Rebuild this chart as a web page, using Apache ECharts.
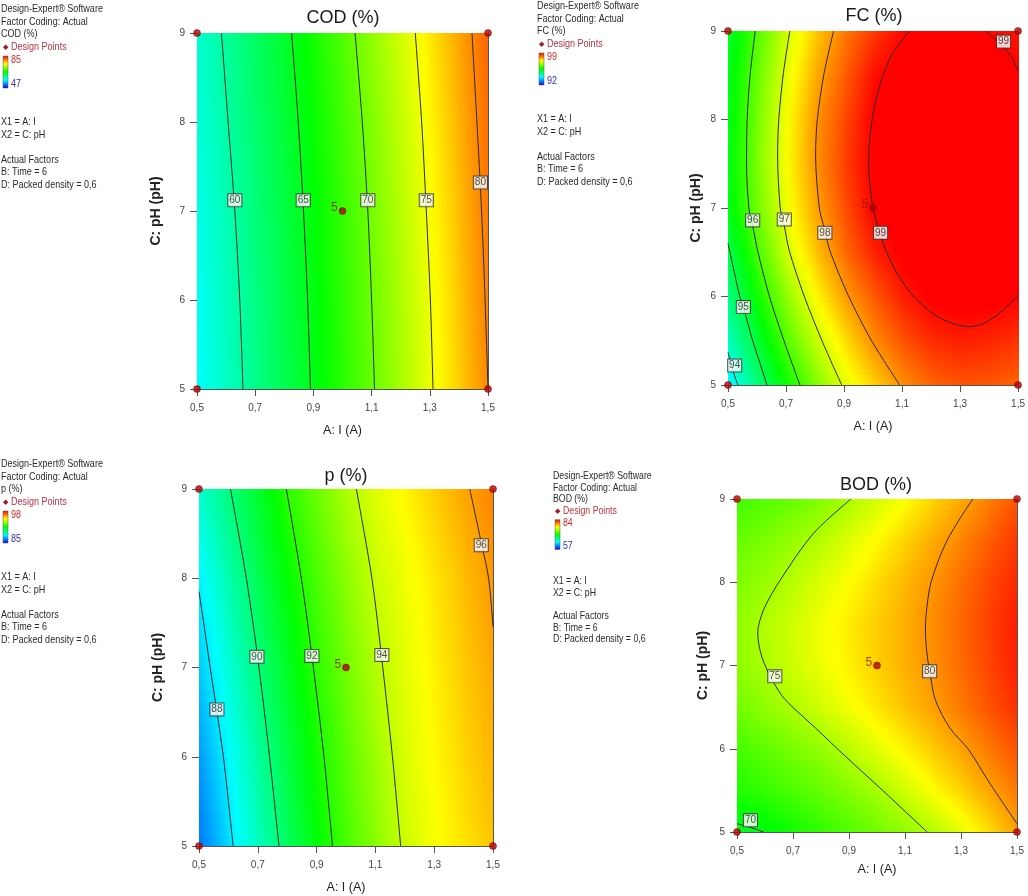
<!DOCTYPE html>
<html>
<head>
<meta charset="utf-8">
<script src="https://cdn.jsdelivr.net/npm/echarts@6/dist/echarts.min.js"></script>
<style>
html,body{margin:0;padding:0;background:#fff;}
#chart{width:1028px;height:896px;}
</style>
</head>
<body>
<div id="chart"></div>
<script>
// ---------------- DATA ----------------
const xTicks = [0.5, 0.7, 0.9, 1.1, 1.3, 1.5];
const xTickLabels = ['0,5', '0,7', '0,9', '1,1', '1,3', '1,5'];
const yTicks = [5, 6, 7, 8, 9];
const xNodes = [0.5, 0.6, 0.7, 0.8, 0.9, 1.0, 1.1, 1.2, 1.3, 1.4, 1.5];

const responseNames = ['COD (%)', 'FC (%)', 'p (%)', 'BOD (%)'];
const legendMax = [85, 99, 98, 84];
const legendMin = [47, 92, 85, 57];
const noteHeader = ['Design-Expert® Software', 'Factor Coding: Actual'];
const noteFactors = ['X1 = A: I', 'X2 = C: pH'];
const noteActual = ['Actual Factors', 'B: Time = 6', 'D: Packed density = 0,6'];
const xAxisName = 'A: I (A)';
const yAxisName = 'C: pH (pH)';

// response surface values read at the nodes (rows from pH 5 upwards)
const codYNodes = [5, 6, 7, 8, 9];
const codGrid = [
  [56.6, 58.75, 60.9, 63.06, 65.23, 67.5, 69.77, 72.24, 74.73, 77.35, 80.0],
  [56.85, 58.99, 61.14, 63.28, 65.45, 67.73, 70.0, 72.47, 74.95, 77.6, 80.25],
  [57.25, 59.36, 61.48, 63.6, 65.77, 68.0, 70.32, 72.8, 75.3, 77.95, 80.6],
  [57.8, 59.85, 61.93, 64.0, 66.2, 68.45, 70.8, 73.24, 75.74, 78.37, 81.0],
  [58.3, 60.33, 62.4, 64.48, 66.72, 69.0, 71.38, 73.8, 76.28, 78.85, 81.4]
];
const fcYNodes = [5, 5.5, 6, 6.5, 7, 7.5, 8, 8.5, 9];
const fcGrid = [
  [93.65, 94.66, 95.55, 96.35, 97.05, 97.55, 98.03, 98.3, 98.42, 98.4, 98.3],
  [94.2, 95.14, 96.05, 96.82, 97.45, 98.03, 98.42, 98.7, 98.8, 98.75, 98.65],
  [94.6, 95.58, 96.48, 97.25, 97.9, 98.37, 98.8, 99.05, 99.1, 99.07, 99.0],
  [94.98, 95.98, 96.9, 97.64, 98.25, 98.76, 99.06, 99.17, 99.2, 99.15, 99.06],
  [95.35, 96.27, 97.14, 97.86, 98.45, 99.0, 99.17, 99.27, 99.3, 99.27, 99.18],
  [95.4, 96.35, 97.22, 97.98, 98.55, 99.05, 99.22, 99.32, 99.35, 99.32, 99.22],
  [95.35, 96.3, 97.2, 97.96, 98.5, 99.03, 99.2, 99.3, 99.33, 99.3, 99.2],
  [95.3, 96.2, 97.07, 97.8, 98.35, 98.9, 99.12, 99.2, 99.22, 99.15, 99.02],
  [95.2, 96.05, 96.9, 97.6, 98.15, 98.6, 98.95, 99.12, 99.1, 98.98, 98.85]
];
const pYNodes = [5, 6, 7, 8, 9];
const pGrid = [
  [86.5, 87.8, 89.08, 90.31, 91.41, 92.4, 93.26, 94.1, 94.65, 95.1, 95.5],
  [86.95, 88.22, 89.49, 90.65, 91.73, 92.64, 93.5, 94.28, 94.8, 95.28, 95.7],
  [87.55, 88.75, 89.95, 91.04, 92.09, 92.94, 93.79, 94.4, 94.93, 95.43, 95.88],
  [88.1, 89.3, 90.42, 91.5, 92.43, 93.27, 94.06, 94.56, 95.07, 95.57, 96.08],
  [88.9, 89.93, 90.98, 92.03, 92.87, 93.7, 94.34, 94.85, 95.37, 95.9, 96.35]
];
const bodYNodes = [5, 5.5, 6, 6.5, 7, 7.5, 8, 8.5, 9];
const bodGrid = [
  [69.6, 70.05, 70.9, 71.75, 72.6, 73.46, 74.3, 75.2, 76.6, 78.1, 79.8],
  [71.3, 71.9, 72.5, 73.2, 74.0, 74.85, 76.0, 77.25, 78.4, 79.65, 80.85],
  [72.3, 73.0, 73.7, 74.4, 75.43, 76.5, 77.57, 78.64, 79.7, 80.8, 81.85],
  [73.5, 74.3, 75.1, 76.04, 76.98, 77.92, 78.87, 79.8, 80.8, 81.8, 82.8],
  [74.2, 75.1, 75.95, 76.8, 77.65, 78.5, 79.35, 80.2, 81.2, 82.2, 83.2],
  [74.3, 75.2, 76.05, 76.9, 77.75, 78.6, 79.4, 80.3, 81.3, 82.3, 83.3],
  [73.8, 74.55, 75.4, 76.35, 77.25, 78.2, 79.15, 80.1, 81.1, 82.1, 83.0],
  [73.2, 73.8, 74.5, 75.33, 76.37, 77.4, 78.45, 79.5, 80.5, 81.55, 82.6],
  [72.2, 72.7, 73.2, 73.9, 74.96, 76.07, 77.2, 78.37, 79.5, 80.67, 81.8]
];

// contour lines: [A, pH]
const codContours = [
  [[0.584, 9], [0.607, 8], [0.630, 7], [0.647, 6], [0.658, 5]],
  [[0.825, 9], [0.848, 8], [0.866, 7], [0.880, 6], [0.890, 5]],
  [[1.043, 9], [1.068, 8], [1.087, 7], [1.100, 6], [1.110, 5]],
  [[1.250, 9], [1.272, 8], [1.288, 7], [1.302, 6], [1.311, 5]],
  [[1.445, 9], [1.462, 8], [1.478, 7], [1.490, 6], [1.500, 5]]
];
const codLabels = [[0.630, 7.12, '60'], [0.865, 7.12, '65'], [1.087, 7.12, '70'], [1.288, 7.12, '75'], [1.474, 7.32, '80']];

const fcContours = [
  [[0.5, 5.37], [0.51, 5.25], [0.52, 5.13], [0.534, 5.0]],
  [[0.5, 6.6], [0.52, 6.3], [0.54, 6.01], [0.56, 5.8], [0.585, 5.5], [0.61, 5.25], [0.634, 5.0]],
  [[0.594, 9], [0.576, 8.5], [0.566, 8], [0.564, 7.5], [0.572, 7], [0.585, 6.8], [0.602, 6.52], [0.642, 6.01], [0.693, 5.5], [0.748, 5]],
  [[0.713, 9], [0.69, 8.5], [0.675, 8], [0.671, 7.6], [0.68, 7], [0.694, 6.8], [0.711, 6.52], [0.762, 6.01], [0.824, 5.5], [0.892, 5]],
  [[0.864, 9], [0.83, 8.5], [0.808, 8], [0.802, 7.6], [0.815, 7], [0.834, 6.75], [0.851, 6.52], [0.915, 6.01], [0.995, 5.5], [1.092, 5]],
  [[1.126, 9], [1.068, 8.75], [1.035, 8.5], [1.012, 8.25], [0.997, 8.0], [0.988, 7.75], [0.985, 7.5], [0.99, 7.25], [1.0, 7.0],
   [1.02, 6.75], [1.047, 6.5], [1.085, 6.25], [1.14, 6.0], [1.19, 5.85], [1.235, 5.75], [1.29, 5.68], [1.325, 5.66],
   [1.37, 5.68], [1.41, 5.75], [1.45, 5.85], [1.5, 6.01]],
  [[1.387, 9], [1.44, 8.85], [1.475, 8.72], [1.5, 8.55]]
];
const fcLabels = [[0.523, 5.22, '94'], [0.553, 5.88, '95'], [0.585, 6.86, '96'], [0.694, 6.87, '97'], [0.834, 6.72, '98'], [1.026, 6.72, '99'], [1.45, 8.88, '99']];

const pContours = [
  [[0.5, 7.85], [0.516, 7.5], [0.538, 7.0], [0.561, 6.5], [0.583, 6.0], [0.60, 5.5], [0.616, 5.0]],
  [[0.607, 9], [0.661, 8], [0.704, 7], [0.740, 6], [0.772, 5]],
  [[0.797, 9], [0.848, 8], [0.889, 7], [0.925, 6], [0.954, 5]],
  [[1.035, 9], [1.088, 8], [1.125, 7], [1.158, 6], [1.186, 5]],
  [[1.421, 9], [1.46, 8.4], [1.485, 8.0], [1.5, 7.46]]
];
const pLabels = [[0.561, 6.53, '88'], [0.697, 7.12, '90'], [0.884, 7.13, '92'], [1.122, 7.14, '94'], [1.46, 8.37, '96']];

const bodContours = [
  [[0.5, 5.1], [0.548, 5.055], [0.595, 5.0]],
  [[0.907, 9], [0.774, 8.59], [0.655, 8.03], [0.595, 7.67], [0.574, 7.39], [0.589, 7.1], [0.63, 6.8], [0.672, 6.59], [0.78, 6.25], [0.887, 5.91], [1.02, 5.5], [1.179, 5.0]],
  [[1.342, 9], [1.25, 8.5], [1.193, 8], [1.175, 7.6], [1.173, 7.4], [1.18, 7.1], [1.19, 6.9], [1.208, 6.59], [1.26, 6.25], [1.327, 5.99], [1.4, 5.6], [1.5, 5.1]]
];
const bodLabels = [[0.548, 5.14, '70'], [0.635, 6.87, '75'], [1.188, 6.93, '80']];

const designPoints = [[0.5, 9], [1.5, 9], [0.5, 5], [1.5, 5]];
const centerPoint = [1.0, 7];
const centerLabel = '5';

// ---------------- STYLE / LAYOUT ----------------
const FONT = "'Liberation Sans',Arial,sans-serif";
const grids = [
  {left: 197, top: 33, width: 291, height: 356},
  {left: 728, top: 31, width: 293, height: 354},
  {left: 199, top: 489, width: 294, height: 357},
  {left: 737, top: 499, width: 280, height: 333}
];
const titlePos = [[343, 18], [874, 16], [346, 476], [876, 485]];
const xNameGap = [35, 35, 35, 31];
const yNameGap = [34, 25, 34, 27];
const blocks = [
  {x: 1, y: 9, s: 1},
  {x: 537, y: 6, s: 1},
  {x: 1, y: 464, s: 1},
  {x: 553, y: 476, s: 0.93}
];

const panels = [
  {yNodes: codYNodes, grid: codGrid, contours: codContours, labels: codLabels},
  {yNodes: fcYNodes, grid: fcGrid, contours: fcContours, labels: fcLabels},
  {yNodes: pYNodes, grid: pGrid, contours: pContours, labels: pLabels},
  {yNodes: bodYNodes, grid: bodGrid, contours: bodContours, labels: bodLabels}
];

const RAMP = [[0, [0, 0, 255]], [0.25, [0, 255, 255]], [0.5, [0, 255, 0]], [0.75, [255, 255, 0]], [1, [255, 0, 0]]];
function rampColor(f) {
  f = Math.max(0, Math.min(1, f));
  for (let k = 1; k < RAMP.length; k++) {
    if (f <= RAMP[k][0]) {
      const a = RAMP[k - 1], b = RAMP[k];
      const t = (f - a[0]) / (b[0] - a[0]);
      const c = a[1].map((v, n) => Math.round(v + (b[1][n] - v) * t));
      return 'rgb(' + c.join(',') + ')';
    }
  }
  return 'rgb(255,0,0)';
}

function makeRender(pi) {
  const P = panels[pi];
  const lo = legendMin[pi], hi = legendMax[pi];
  return function (params, api) {
    const i = api.value(2), j = api.value(3);
    const g = P.grid, ys = P.yNodes;
    const p0 = api.coord([xNodes[i], ys[j]]);
    const p1 = api.coord([xNodes[i + 1], ys[j + 1]]);
    const v00 = g[j][i], v10 = g[j][i + 1], v01 = g[j + 1][i], v11 = g[j + 1][i + 1];
    const N = 8, children = [];
    const left = p0[0], right = p1[0], bottom = p0[1], top = p1[1];
    const h = (bottom - top) / N;
    for (let k = 0; k < N; k++) {
      const t = (k + 0.5) / N;
      const vl = v00 + (v01 - v00) * t, vr = v10 + (v11 - v10) * t;
      const stops = [];
      for (let s = 0; s <= 4; s++) {
        const v = vl + (vr - vl) * s / 4;
        stops.push({offset: s / 4, color: rampColor((v - lo) / (hi - lo))});
      }
      children.push({
        type: 'rect',
        shape: {x: left, y: bottom - (k + 1) * h - 0.5, width: right - left + 1, height: h + 1},
        style: {fill: new echarts.graphic.LinearGradient(0, 0, 1, 0, stops)},
        silent: true
      });
    }
    return {type: 'group', children: children};
  };
}

// ---------------- OPTION ----------------
const option = {
  animation: false,
  backgroundColor: '#fff',
  grid: grids.map(g => Object.assign({containLabel: false}, g)),
  xAxis: [],
  yAxis: [],
  series: [],
  graphic: []
};

const fmtX = v => {
  const k = xTicks.findIndex(t => Math.abs(t - v) < 1e-6);
  return k >= 0 ? xTickLabels[k] : '';
};

for (let k = 0; k < 4; k++) {
  option.xAxis.push({
    gridIndex: k, type: 'value', min: 0.5, max: 1.5, position: 'bottom',
    axisLine: {show: true, onZero: false, lineStyle: {color: '#555', width: 1}},
    axisTick: {show: true, length: 7, customValues: xTicks, lineStyle: {color: '#555'}},
    axisLabel: {customValues: xTicks, formatter: fmtX, fontSize: 10, color: '#444', margin: 14, fontFamily: FONT},
    splitLine: {show: false},
    name: xAxisName, nameLocation: 'middle', nameGap: xNameGap[k],
    nameTextStyle: {fontSize: 12.5, color: '#222', fontFamily: FONT}
  });
  option.yAxis.push({
    gridIndex: k, type: 'value', min: 5, max: 9, interval: 1, position: 'left',
    axisLine: {show: true, onZero: false, lineStyle: {color: '#555', width: 1}},
    axisTick: {show: true, length: 7, lineStyle: {color: '#555'}},
    axisLabel: {fontSize: 10, color: '#444', margin: 12, fontFamily: FONT},
    splitLine: {show: false},
    name: yAxisName, nameLocation: 'middle', nameGap: yNameGap[k],
    nameTextStyle: {fontSize: 14, color: '#222', fontWeight: 'bold', fontFamily: FONT}
  });
}
// frame axes (top / right)
for (let k = 0; k < 4; k++) {
  option.xAxis.push({
    gridIndex: k, type: 'value', min: 0.5, max: 1.5, position: 'top',
    axisLine: {show: true, onZero: false, lineStyle: {color: '#555', width: 1}},
    axisTick: {show: false}, axisLabel: {show: false}, splitLine: {show: false}
  });
  option.yAxis.push({
    gridIndex: k, type: 'value', min: 5, max: 9, position: 'right',
    axisLine: {show: true, onZero: false, lineStyle: {color: '#555', width: 1}},
    axisTick: {show: false}, axisLabel: {show: false}, splitLine: {show: false}
  });
}

for (let k = 0; k < 4; k++) {
  const P = panels[k];
  const cells = [];
  for (let j = 0; j < P.yNodes.length - 1; j++)
    for (let i = 0; i < xNodes.length - 1; i++)
      cells.push([xNodes[i], P.yNodes[j], i, j]);
  option.series.push({
    type: 'custom', xAxisIndex: k, yAxisIndex: k, renderItem: makeRender(k),
    data: cells, encode: {x: 0, y: 1}, clip: true, silent: true, z: 1
  });
  P.contours.forEach(c => {
    option.series.push({
      type: 'line', xAxisIndex: k, yAxisIndex: k, data: c, smooth: 0.3,
      showSymbol: false, symbol: 'none', clip: true, silent: true, z: 3,
      lineStyle: {color: '#2a2a2a', width: 1}
    });
  });
  option.series.push({
    type: 'scatter', xAxisIndex: k, yAxisIndex: k, data: P.labels,
    symbol: 'rect', symbolSize: 2, itemStyle: {color: 'rgba(0,0,0,0)'}, silent: true, z: 6,
    label: {
      show: true, position: 'inside', formatter: p => p.value[2],
      fontSize: 10, color: '#222', fontFamily: FONT,
      backgroundColor: '#fff', borderColor: '#333', borderWidth: 1, padding: [2, 1, 0, 1]
    }
  });
  option.series.push({
    type: 'scatter', xAxisIndex: k, yAxisIndex: k, data: designPoints,
    symbol: 'circle', symbolSize: 7, clip: false, silent: true, z: 5,
    itemStyle: {color: '#b30000', borderColor: '#6b0000', borderWidth: 0.6}
  });
  option.series.push({
    type: 'scatter', xAxisIndex: k, yAxisIndex: k, data: [centerPoint],
    symbol: 'circle', symbolSize: 7, clip: false, silent: true, z: 5,
    itemStyle: {color: '#b30000', borderColor: '#6b0000', borderWidth: 0.6},
    label: {show: true, position: 'left', distance: 1, offset: [0, -3], formatter: centerLabel,
      fontSize: 12, color: '#8b1a1a', fontFamily: FONT}
  });

  // title
  option.graphic.push({
    type: 'text', x: titlePos[k][0], y: titlePos[k][1], silent: true,
    style: {text: responseNames[k], fontSize: 18, fontFamily: FONT,
      fill: '#1a1a1a', align: 'center', verticalAlign: 'middle'}
  });

  // side note block
  const b = blocks[k], s = b.s;
  const txt = (str, dx, dy, fill) => option.graphic.push({
    type: 'text', x: b.x + dx, y: b.y + dy * s, silent: true, scaleX: 0.82,
    style: {text: str, fontSize: 11 * (s < 1 ? 0.97 : 1), fontFamily: FONT, fill: fill || '#2a2a2a',
      align: 'left', verticalAlign: 'middle'}
  });
  txt(noteHeader[0], 0, 0);
  txt(noteHeader[1], 0, 12.5);
  txt(responseNames[k], 0, 25);
  option.graphic.push({
    type: 'text', x: b.x + 4, y: b.y + 38 * s, silent: true,
    style: {text: '◆', fontSize: 7, fill: '#9b1c2c', align: 'center', verticalAlign: 'middle'}
  });
  txt('Design Points', 10, 37.5, '#b8333f');
  option.graphic.push({
    type: 'rect', x: b.x + 2, y: b.y + 47 * s, silent: true,
    shape: {x: 0, y: 0, width: 5, height: 32 * s},
    style: {fill: new echarts.graphic.LinearGradient(0, 0, 0, 1, [
      {offset: 0, color: 'rgb(255,0,0)'}, {offset: 0.25, color: 'rgb(255,255,0)'},
      {offset: 0.5, color: 'rgb(0,255,0)'}, {offset: 0.75, color: 'rgb(0,255,255)'},
      {offset: 1, color: 'rgb(0,0,255)'}]), stroke: '#555', lineWidth: 0.5}
  });
  txt(String(legendMax[k]), 10, 50.5, '#cc2a2a');
  txt(String(legendMin[k]), 10, 75, '#2d2dc0');
  txt(noteFactors[0], 0, 113);
  txt(noteFactors[1], 0, 125.5);
  txt(noteActual[0], 0, 150.5);
  txt(noteActual[1], 0, 163);
  txt(noteActual[2], 0, 175.5);
}

const chart = echarts.init(document.getElementById('chart'), null, {renderer: 'canvas'});
chart.setOption(option);
</script>
</body>
</html>
